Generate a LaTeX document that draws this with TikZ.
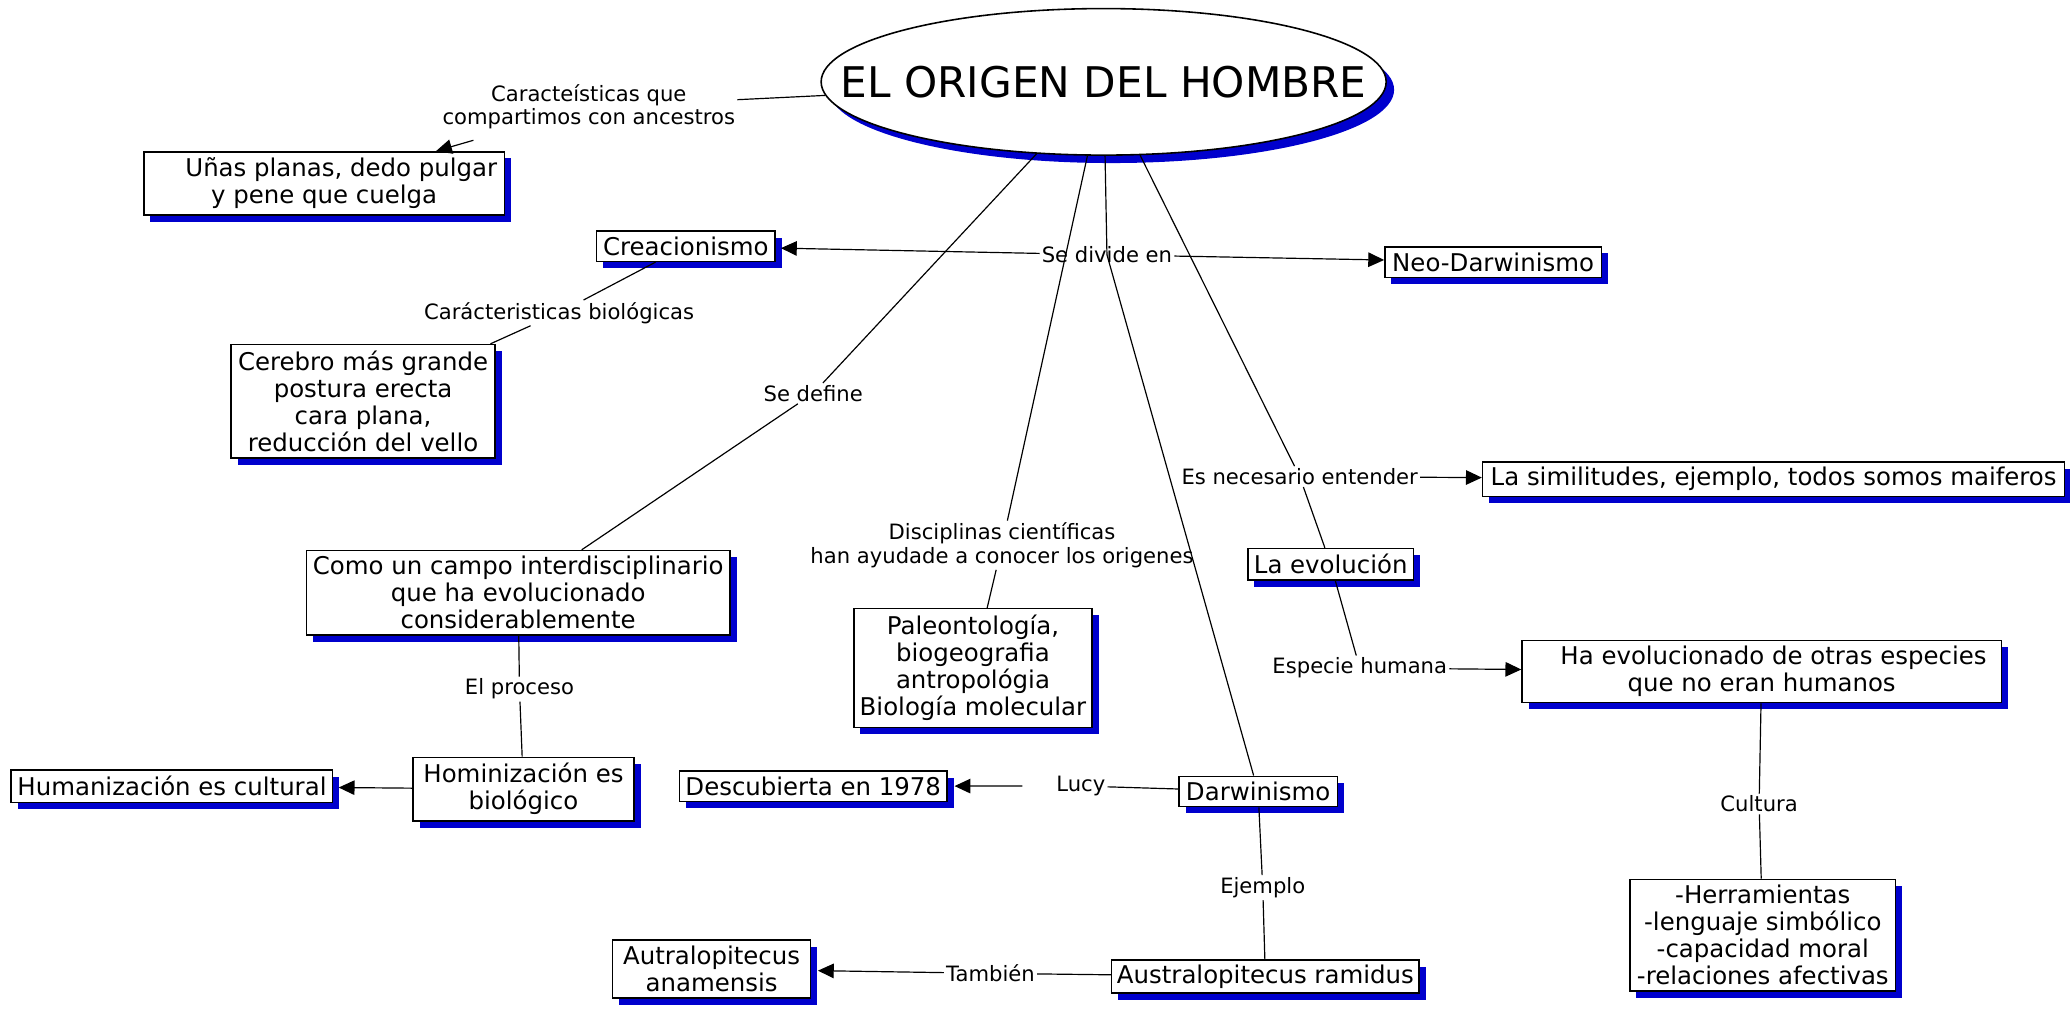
\documentclass[tikz,border=0pt]{standalone}
\usepackage{fontspec}
\setmainfont{DejaVu Sans}
\usetikzlibrary{shadows,arrows.meta,shapes.geometric}
\definecolor{shblue}{RGB}{0,0,205}
\begin{document}
\begin{tikzpicture}[x=1pt,y=-1pt,
  box/.style={draw=black, line width=1.1pt, fill=white, align=center,
    font=\fontsize{18.5}{20.5}\selectfont, inner sep=0pt,
    drop shadow={shadow xshift=5pt, shadow yshift=-5pt, fill=shblue, opacity=1}},
  lbl/.style={font=\fontsize{16}{17.7}\selectfont, inner sep=1.5pt, align=center},
  con/.style={line width=0.9pt},
  arr/.style={con, -{Triangle[length=12pt,width=11pt]}}]
\useasboundingbox (0,0) rectangle (1568,767.3);

% main ellipse
\node[ellipse, draw=black, line width=1.2pt, fill=white, minimum width=428pt, minimum height=111pt, inner sep=0pt,
  drop shadow={shadow xshift=6pt, shadow yshift=-6pt, fill=shblue, opacity=1}] (title) at (836,62) {};
\node[font=\fontsize{32}{36}\selectfont, inner sep=0pt] (titletext) at (title.center) {EL ORIGEN DEL HOMBRE};

% concept boxes
\node[box, minimum width=273pt, minimum height=48pt] (unas) at (245.5,139) {\hspace*{26pt}Uñas planas, dedo pulgar\\y pene que cuelga};
\node[box, minimum width=135pt, minimum height=23pt] (crea) at (519.5,186.5) {Creacionismo};
\node[box, minimum width=164pt, minimum height=23pt] (neo) at (1131,198.5) {Neo-Darwinismo};
\node[box, minimum width=200pt, minimum height=86pt] (cerebro) at (275,304) {Cerebro más grande\\postura erecta\\cara plana,\\reducción del vello};
\node[box, minimum width=321pt, minimum height=64pt] (como) at (392.5,449) {Como un campo interdisciplinario\\que ha evolucionado\\considerablemente};
\node[box, minimum width=167.4pt, minimum height=48.3pt] (homin) at (396.5,597.75) {Hominización es\\biológico};
\node[box, minimum width=243.5pt, minimum height=24.5pt] (human) at (130.25,595.45) {Humanización es cultural};
\node[box, minimum width=180.5pt, minimum height=90pt] (paleo) at (737,506) {Paleontología,\\biogeografia\\antropológia\\Biología molecular};
\node[box, minimum width=120pt, minimum height=23pt] (darw) at (953,599.5) {Darwinismo};
\node[box, minimum width=203pt, minimum height=23pt] (descub) at (616,595.5) {Descubierta en 1978};
\node[box, minimum width=233pt, minimum height=25pt] (ramidus) at (958.5,739.8) {Australopitecus ramidus};
\node[box, minimum width=150pt, minimum height=44pt] (anam) at (539,734) {Autralopitecus\\anamensis};
\node[box, minimum width=441pt, minimum height=26pt] (simil) at (1343.5,363) {La similitudes, ejemplo, todos somos maiferos};
\node[box, minimum width=125.6pt, minimum height=24pt] (evol) at (1008,427.5) {La evolución};
\node[box, minimum width=363pt, minimum height=47pt] (haevol) at (1334.4,508.8) {\hspace*{18pt}Ha evolucionado de otras especies\\que no eran humanos};
\node[box, minimum width=201.4pt, minimum height=84.7pt] (herr) at (1335.3,708.4) {-Herramientas\\-lenguaje simbólico\\-capacidad moral\\-relaciones afectivas};

% linking labels
\node[lbl] (carac) at (446,81) {Caracteísticas que\\compartimos con ancestros};
\node[lbl] (sediv) at (838.5,193) {Se divide en};
\node[lbl] (carbio) at (423.5,237) {Carácteristicas biológicas};
\node[lbl] (sedef) at (616,298) {Se define};
\node[lbl] (discip) at (759,413) {Disciplinas científicas\\han ayudade a conocer los origenes};
\node[lbl] (esnec) at (984.5,361) {Es necesario entender};
\node[lbl] (esphum) at (1030,506) {Especie humana};
\node[lbl] (elproc) at (393.5,522) {El proceso};
\node[lbl] (lucy) at (818.7,595.4) {Lucy};
\node[lbl] (ejemplo) at (956.5,672.4) {Ejemplo};
\node[lbl] (tambien) at (750.3,737.3) {También};
\node[lbl] (cultura) at (1332.5,609) {Cultura};

% connectors
\draw[con] (title) -- (carac);
\draw[arr, shorten <=24pt] (carac) -- (unas);

\draw[con] (title) -- (sediv.center);
\draw[con] (sediv.center) -- (darw);
\draw[arr, shorten >=4pt] (sediv) -- (crea);
\draw[arr] (sediv) -- (neo);

\draw[con] (crea) -- (carbio);
\draw[con] (carbio) -- (cerebro);

\draw[con] (title) -- (sedef);
\draw[con] (sedef) -- (como);
\draw[con] (como) -- (elproc);
\draw[con] (elproc) -- (homin);
\draw[arr, shorten >=4pt] (homin) -- (human);

\draw[con] (title) -- (discip);
\draw[con] (discip) -- (paleo);

\draw[con] (title) -- (esnec);
\draw[arr] (esnec) -- (simil);
\draw[con] (esnec) -- (evol);
\draw[con] (evol) -- (esphum);
\draw[arr] (esphum) -- (haevol);
\draw[con] (haevol) -- (cultura);
\draw[con] (cultura) -- (herr);

\draw[con] (darw) -- (lucy);
\draw[arr, shorten <=24pt, shorten >=5pt] (lucy) -- (descub);
\draw[con] (darw) -- (ejemplo);
\draw[con] (ejemplo) -- (ramidus);
\draw[con] (ramidus) -- (tambien);
\draw[arr, shorten >=5pt] (tambien) -- (anam);
\end{tikzpicture}
\end{document}
